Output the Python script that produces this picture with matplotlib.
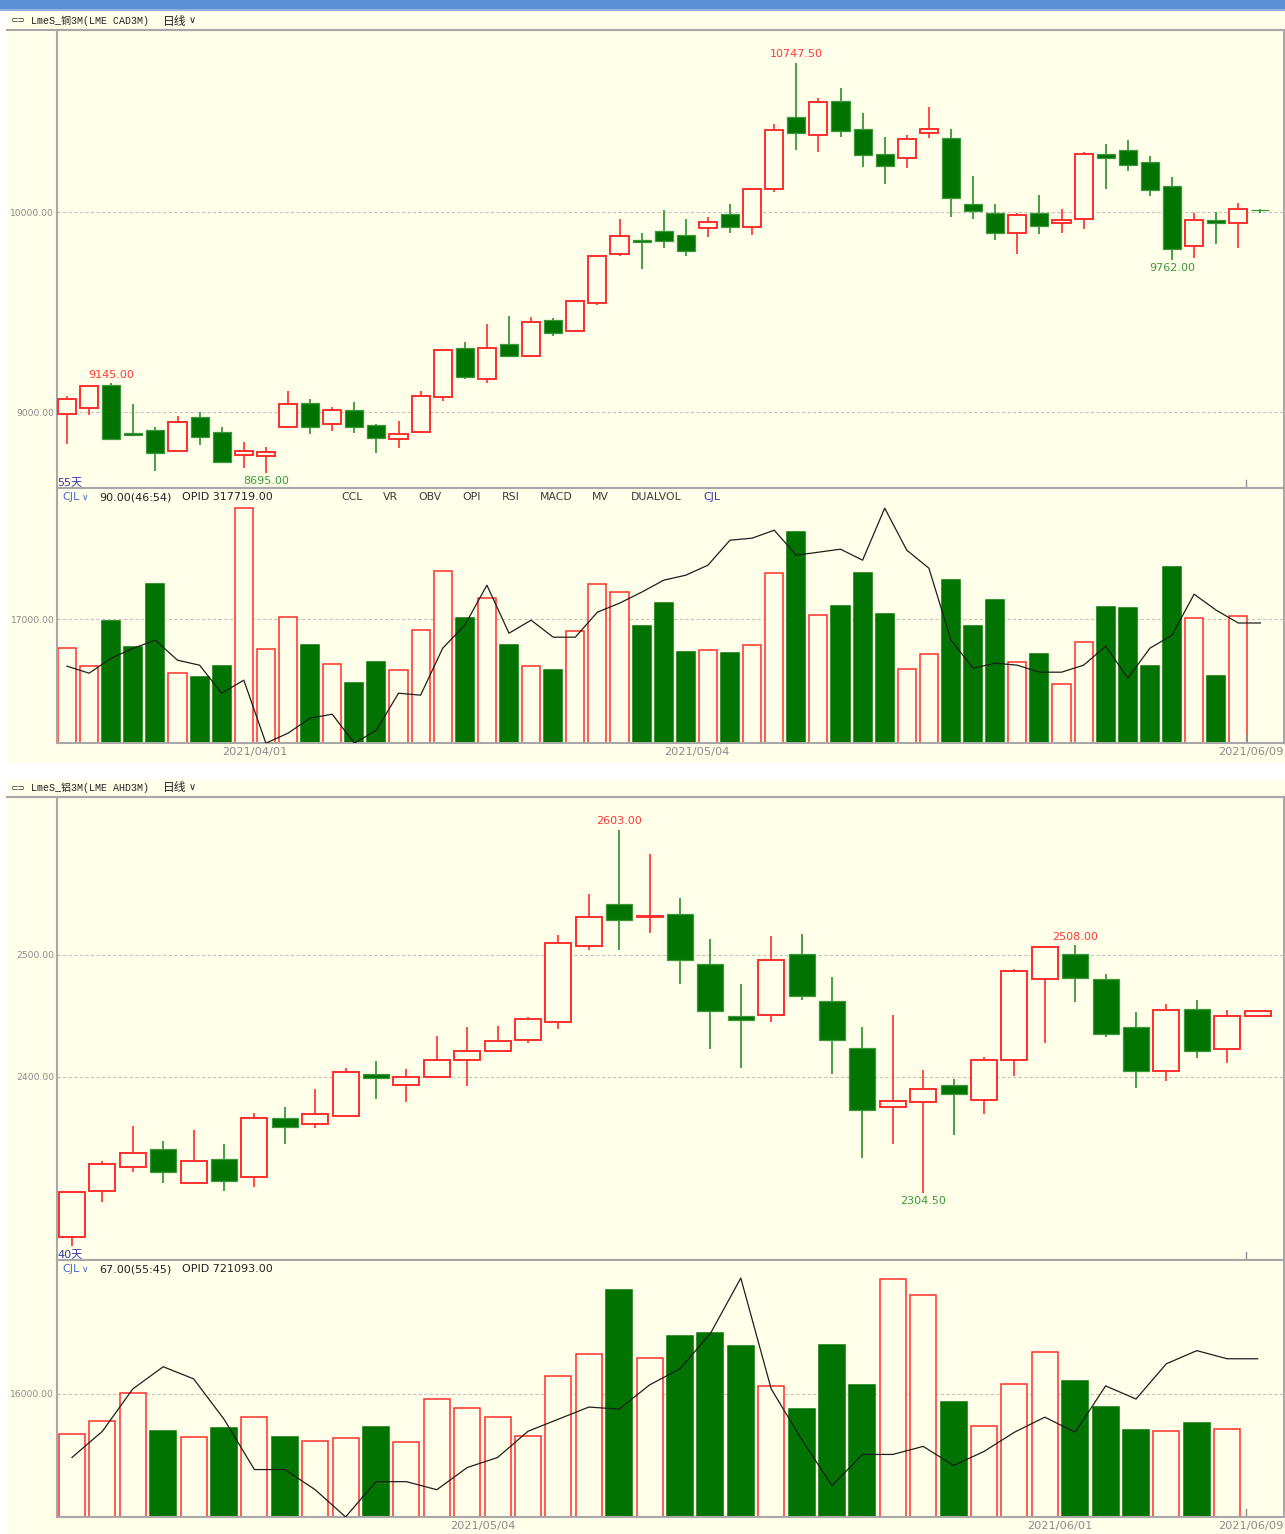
import matplotlib
matplotlib.use("Agg")
import matplotlib.pyplot as plt
from matplotlib.patches import Rectangle
from matplotlib.transforms import blended_transform_factory

# ---------------- copper, 55 daily bars ----------------
cu_open = [8988, 9018, 9135, 8895, 8908, 8805, 8975, 8898, 8787, 8782,
           8923, 9043, 8938, 9008, 8937, 8867, 8902, 9073, 9320, 9163,
           9340, 9282, 9462, 9405, 9543, 9792, 9858, 9903, 9883, 9918,
           9990, 9923, 10113, 10477, 10385, 10553, 10417, 10292, 10268, 10393,
           10372, 10040, 9995, 9897, 9993, 9947, 9963, 10290, 10310, 10250,
           10130, 9832, 9958, 9943, 10012]
cu_high = [9080, 9130, 9145, 9040, 8925, 8980, 8998, 8925, 8848, 8823,
           9105, 9065, 9025, 9050, 8940, 8953, 9105, 9310, 9352, 9438,
           9482, 9477, 9468, 9557, 9782, 9965, 9893, 10010, 9965, 9975,
           10040, 10115, 10438, 10747.5, 10568, 10618, 10493, 10373, 10387, 10523,
           10413, 10180, 10040, 9993, 10085, 10015, 10302, 10342, 10362, 10282,
           10173, 9993, 9998, 10043, 10014]
cu_low = [8840, 8987, 8860, 8878, 8705, 8800, 8835, 8743, 8718, 8695,
          8920, 8890, 8907, 8893, 8795, 8822, 8893, 9053, 9163, 9147,
          9277, 9277, 9382, 9403, 9537, 9780, 9713, 9820, 9782, 9877,
          9897, 9885, 10098, 10308, 10300, 10377, 10223, 10142, 10218, 10368,
          9973, 9967, 9860, 9790, 9892, 9897, 9917, 10117, 10207, 10082,
          9762, 9772, 9840, 9822, 9997]
cu_close = [9064, 9128, 8865, 8885, 8795, 8948, 8877, 8750, 8807, 8802,
            9038, 8927, 9008, 8927, 8872, 8892, 9078, 9308, 9177, 9322,
            9282, 9452, 9393, 9553, 9778, 9878, 9852, 9857, 9805, 9948,
            9927, 10113, 10410, 10393, 10552, 10405, 10283, 10228, 10367, 10417,
            10072, 10007, 9897, 9985, 9932, 9958, 10292, 10268, 10233, 10108,
            9815, 9958, 9947, 10013, 10008]
cu_vol = [13000, 10550, 16700, 13150, 21800, 9600, 9050, 10550, 32200, 12900,
          17300, 13450, 10850, 8250, 11100, 10000, 15500, 23600, 17150, 19900,
          13450, 10550, 10000, 15350, 21800, 20700, 16050, 19200, 12500, 12750,
          12350, 13450, 23300, 28900, 17550, 18800, 23300, 17700, 10150, 12200,
          22350, 16050, 19600, 11100, 12200, 8100, 13850, 18650, 18500, 10550,
          24150, 17150, 9200, 17400, 0]
cu_oi = [313400, 312700, 314200, 315200, 316000, 314000, 313500, 310700, 312000, 305700,
         306700, 308200, 308600, 305700, 307000, 310700, 310500, 315200, 317500, 321500,
         316700, 318000, 316300, 316300, 318800, 319700, 320800, 322000, 322500, 323500,
         326000, 326200, 327000, 324500, 324800, 325100, 324000, 329200, 325000, 323200,
         316000, 313200, 313700, 313500, 312800, 312800, 313500, 315400, 312200, 315200,
         316500, 320600, 319000, 317719, 317719]
cu_date_idx = [9, 29]
cu_date_labels = ["2021/04/01", "2021/05/04"]
cu_title = "LmeS_铜3M(LME CAD3M)"
cu_header = ("90.00(46:54)", "OPID 317719.00")

# ---------------- aluminium, 40 daily bars ----------------
al_open = [2268.5, 2306, 2326, 2341, 2312.5, 2332, 2317.5, 2366, 2361, 2368,
           2402.5, 2393, 2400, 2414, 2421, 2430, 2445, 2507.5, 2542, 2531.5,
           2533.5, 2492.5, 2450, 2451, 2500.5, 2462, 2423.5, 2375, 2379, 2393.5,
           2381, 2413.5, 2480, 2501, 2480.5, 2440.5, 2405, 2455.5, 2422.5, 2450]
al_high = [2306, 2331, 2359.5, 2347, 2356.5, 2345, 2370, 2375.5, 2389.5, 2407.5,
           2413, 2406, 2433.5, 2440.5, 2442, 2449, 2516.5, 2550.5, 2603, 2583,
           2547, 2513, 2476, 2516, 2517, 2482, 2440.5, 2450.5, 2405.5, 2398,
           2416, 2488.5, 2507, 2508, 2484.5, 2453.5, 2459.5, 2463, 2455, 2454.5]
al_low = [2261, 2297, 2322, 2313, 2312, 2306.5, 2309.5, 2345, 2357.5, 2367,
          2381.5, 2379.5, 2399, 2392, 2420, 2428, 2439.5, 2504.5, 2504.5, 2518,
          2476.5, 2423, 2407.5, 2445, 2463, 2402, 2333, 2344.5, 2304.5, 2352,
          2369, 2400.5, 2427.5, 2461.5, 2432.5, 2390.5, 2396.5, 2415.5, 2411.5, 2449]
al_close = [2305, 2328.5, 2337.5, 2321.5, 2331, 2314, 2366, 2359, 2369, 2404,
            2399, 2400, 2413.5, 2421, 2429.5, 2447.5, 2510, 2531.5, 2529, 2532,
            2495.5, 2454, 2446.5, 2496, 2466, 2430, 2372.5, 2380, 2390, 2386,
            2413.5, 2487, 2506.5, 2481.5, 2435, 2405, 2455, 2421, 2449.5, 2454]
al_vol = [10800, 12500, 16150, 11200, 10400, 11600, 13000, 10400, 9900, 10300,
          11700, 9750, 15350, 14200, 13000, 10550, 18350, 21200, 29550, 20700,
          23550, 23950, 22250, 17050, 14050, 22400, 17150, 30950, 28900, 14950,
          11850, 17300, 21450, 17700, 14300, 11300, 11200, 12250, 11450, 0]
al_oi = [711300, 713900, 718100, 720300, 719100, 715100, 710100, 710100, 708100, 705400,
         708900, 708900, 708100, 710300, 711300, 713900, 715100, 716300, 716100, 718500,
         720100, 723600, 729100, 718100, 713100, 708500, 711600, 711600, 712400, 710500,
         711900, 713800, 715300, 713800, 718400, 717100, 720600, 721900, 721093, 721093]
al_date_idx = [14, 33]
al_date_labels = ["2021/05/04", "2021/06/01"]
al_title = "LmeS_铝3M(LME AHD3M)"
al_header = ("67.00(55:45)", "OPID 721093.00")

last_date = "2021/06/09"
indicator_names = ["CCL", "VR", "OBV", "OPI", "RSI", "MACD", "MV", "DUALVOL"]

# ---------------- style ----------------
BG = "#FFFFEA"
RED = "#FF2E2E"
GREEN = "#007300"
GREEN_WICK = "#2A8F2A"
GRID = "#C4C4BC"
SPINE = "#A8A8A8"
TICK = "#8A8A8A"

W, H = 1285, 1534
fig = plt.figure(figsize=(W / 100, H / 100), dpi=100, facecolor=BG)


def rect(x0, y0, x1, y1):
    return [x0 / W, 1 - y1 / H, (x1 - x0) / W, (y1 - y0) / H]


def ftext(x, y, s, **kw):
    kw.setdefault("va", "center")
    fig.text(x / W, 1 - y / H, s, **kw)


# frame decorations
fig.patches.append(Rectangle((0, 1 - 8.5 / H), 1, 8.5 / H, transform=fig.transFigure,
                             facecolor="#5A8FD5", edgecolor="none"))
fig.patches.append(Rectangle((0, 1 - 11 / H), 1, 1.6 / H, transform=fig.transFigure,
                             facecolor="#8DB2E3", edgecolor="none"))
fig.patches.append(Rectangle((0, 0), 7 / W, 1 - 11 / H, transform=fig.transFigure,
                             facecolor="white", edgecolor="none"))
fig.patches.append(Rectangle((0, 1 - 779 / H), 1, 16 / H, transform=fig.transFigure,
                             facecolor="white", edgecolor="none"))


def style_axes(ax):
    ax.set_facecolor(BG)
    for s in ax.spines.values():
        s.set_color(SPINE)
        s.set_linewidth(1.5)
    ax.tick_params(length=0, labelsize=6.6, labelcolor=TICK, pad=2)
    ax.set_xticks([])


def draw_candles(ax, o, h, l, c, width):
    for i in range(len(o)):
        up = c[i] >= o[i]
        top, bot = max(o[i], c[i]), min(o[i], c[i])
        wick = RED if up else GREEN_WICK
        ax.vlines(i, top, h[i], color=wick, lw=1.2, zorder=2)
        ax.vlines(i, l[i], bot, color=wick, lw=1.2, zorder=2)
        if up:
            ax.add_patch(Rectangle((i - width / 2, bot), width, top - bot,
                                   facecolor=BG, edgecolor=RED, lw=1.4, zorder=3))
        else:
            ax.add_patch(Rectangle((i - width / 2, bot), width, top - bot,
                                   facecolor=GREEN, edgecolor="#3C963C", lw=0.9, zorder=3))


def draw_chart(top, o, h, l, c, vol, oi, px0, step, yrange, yticks, vrange, vtick,
               oirange, hi_labels, lo_labels, date_idx, date_labels, days, title,
               header, names, width):
    x0 = (57 - px0) / step
    x1 = (1284 - px0) / step
    ax = fig.add_axes(rect(57, top, 1284, top + yrange[2]))
    axv = fig.add_axes(rect(57, top + yrange[2], 1284, top + yrange[2] + vrange[2]))
    for a in (ax, axv):
        style_axes(a)
        a.set_xlim(x0, x1)

    # price panel
    draw_candles(ax, o, h, l, c, width)
    ax.set_ylim(yrange[0], yrange[1])
    ax.set_yticks(yticks)
    ax.set_yticklabels(["%.2f" % t for t in yticks])
    for t in yticks:
        ax.axhline(t, color=GRID, lw=0.8, ls=(0, (3, 2)), zorder=1)
    for i in hi_labels:
        ax.annotate("%.2f" % h[i], (i, h[i]), xytext=(0, 2.5), textcoords="offset points",
                    ha="center", va="bottom", color="#FF3838", fontsize=8)
    for i in lo_labels:
        ax.annotate("%.2f" % l[i], (i, l[i]), xytext=(0, -2.5), textcoords="offset points",
                    ha="center", va="top", color="#3A9A3A", fontsize=8)
    ax.text(0.0, 0.0, "%d天" % days, transform=ax.transAxes, ha="left", va="bottom",
            color="#3838B0", fontsize=8, family=["DejaVu Sans", "Noto Sans CJK SC"])

    # volume panel
    xs = [i for i in range(len(vol)) if vol[i] > 0]
    ups = [c[i] >= o[i] for i in xs]
    axv.bar(xs, [vol[i] for i in xs], width=width,
            color=[BG if u else GREEN for u in ups],
            edgecolor=[RED if u else GREEN for u in ups], lw=1.1, zorder=2)
    axv.set_ylim(0, vrange[1])
    axv.set_yticks([vtick])
    axv.set_yticklabels(["%.2f" % vtick])
    axv.axhline(vtick, color=GRID, lw=0.8, ls=(0, (3, 2)), zorder=1)
    axt = axv.twinx()
    axt.plot(range(len(oi)), oi, color="#1E1E1E", lw=0.9)
    axt.set_ylim(oirange)
    axt.set_xlim(x0, x1)
    axt.axis("off")

    # dates
    tr = blended_transform_factory(axv.transData, axv.transAxes)
    for i, s in zip(date_idx, date_labels):
        axv.text(i - 0.5, -0.015, s, transform=tr, ha="center", va="top",
                 color=TICK, fontsize=8.2)
    axv.text(0.9995, -0.015, last_date, transform=axv.transAxes, ha="right", va="top",
             color=TICK, fontsize=8.2)

    # small position markers
    for a in (ax, axv):
        a.plot([0.969, 0.969], [0, 0.018 if a is ax else 0.03], transform=a.transAxes,
               color="#909090", lw=1)

    # title row
    ty = top - 9
    ftext(10, ty, "⊂⊃", fontsize=6.5, color="#333333", family="DejaVu Sans")
    ftext(31, ty, title, fontsize=7.2, color="#222222",
          family=["Liberation Mono", "Noto Sans CJK SC"])
    ftext(163, ty, "日线", fontsize=8.5, color="#222222", family="Noto Sans CJK SC")
    ftext(189, ty - 1, "∨", fontsize=7, color="#222222", family="DejaVu Sans")
    fig.add_artist(plt.Line2D([7 / W, 1], [1 - top / H, 1 - top / H],
                              color=SPINE, lw=1.5, transform=fig.transFigure))

    # volume header
    hy = top + yrange[2] + 9
    ftext(62, hy, "CJL", fontsize=8, color="#4A6AD8")
    ftext(82, hy, "∨", fontsize=6.5, color="#4A6AD8")
    ftext(99, hy, header[0], fontsize=8, color="#222222")
    ftext(182, hy, header[1], fontsize=8, color="#222222")
    if names:
        for nx, s in zip([352, 390, 430, 472, 511, 556, 600, 656], names):
            ftext(nx, hy, s, fontsize=7.8, color="#3A3A3A", ha="center")
        ftext(712, hy, "CJL", fontsize=7.8, color="#3434B8", ha="center")


# copper: price 10000 at y=212, 9000 at y=412 (5 per px)
draw_chart(30, cu_open, cu_high, cu_low, cu_close, cu_vol, cu_oi,
           px0=67, step=22.1, yrange=(8620, 10910, 458), yticks=[9000, 10000],
           vrange=(0, 34960, 255), vtick=17000, oirange=(305719, 331219),
           hi_labels=[2, 33], lo_labels=[9, 50], date_idx=cu_date_idx,
           date_labels=cu_date_labels, days=len(cu_open), title=cu_title,
           header=cu_header, names=indicator_names, width=0.82)

# aluminium: 2500 at y=955, 2400 at y=1077
draw_chart(797, al_open, al_high, al_low, al_close, al_vol, al_oi,
           px0=72, step=30.4, yrange=(2249.4, 2629.8, 463), yticks=[2400, 2500],
           vrange=(0, 33430, 257), vtick=16000, oirange=(705393, 730893),
           hi_labels=[18, 33], lo_labels=[28], date_idx=al_date_idx,
           date_labels=al_date_labels, days=len(al_open), title=al_title,
           header=al_header, names=None, width=0.86)

fig.savefig("out.png", dpi=100, facecolor=BG)
